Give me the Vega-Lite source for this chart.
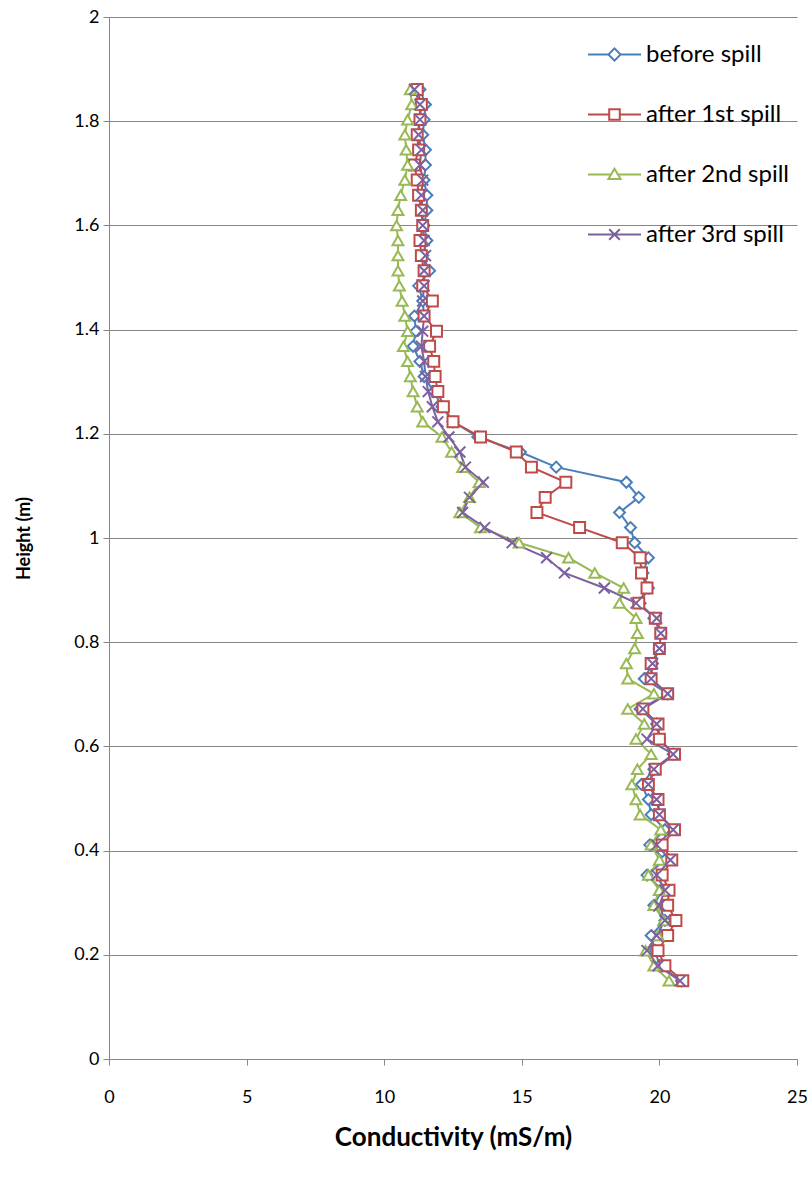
{
  "$schema": "https://vega.github.io/schema/vega-lite/v6.json",
  "width": 688,
  "height": 1042,
  "autosize": {"type": "none"},
  "padding": {"left": 109, "top": 17, "right": 15, "bottom": 129},
  "background": "white",
  "config": {
    "view": {"stroke": null},
    "font": "Lato",
    "axis": {"labelFont": "Lato", "titleFont": "Lato", "labelColor": "#000000", "titleColor": "#000000", "domainColor": "#868686", "tickColor": "#868686", "gridColor": "#868686", "labelFontSize": 18, "titleFontSize": 18, "titleFontWeight": "bold", "labelFlush": false},
    "legend": {"title": null, "orient": "none", "legendX": 478, "legendY": 10, "symbolSize": 2809, "symbolStrokeWidth": 2, "labelFontSize": 24, "labelFont": "Lato", "labelColor": "#000000", "labelOffset": 4, "rowPadding": 20}
  },
  "datasets": {
    "cond": [
      {"s": "before spill", "h": 0.150, "c": 20.8}, {"s": "before spill", "h": 0.179, "c": 20.0}, {"s": "before spill", "h": 0.208, "c": 19.85}, {"s": "before spill", "h": 0.237, "c": 19.7}, {"s": "before spill", "h": 0.266, "c": 20.2}, {"s": "before spill", "h": 0.295, "c": 19.8}, {"s": "before spill", "h": 0.324, "c": 20.1}, {"s": "before spill", "h": 0.353, "c": 19.55}, {"s": "before spill", "h": 0.382, "c": 20.2}, {"s": "before spill", "h": 0.411, "c": 19.65},
      {"s": "before spill", "h": 0.440, "c": 20.2}, {"s": "before spill", "h": 0.469, "c": 19.7}, {"s": "before spill", "h": 0.498, "c": 19.6}, {"s": "before spill", "h": 0.527, "c": 19.35}, {"s": "before spill", "h": 0.556, "c": 19.8}, {"s": "before spill", "h": 0.585, "c": 20.5}, {"s": "before spill", "h": 0.614, "c": 20.0}, {"s": "before spill", "h": 0.643, "c": 19.9}, {"s": "before spill", "h": 0.672, "c": 19.3}, {"s": "before spill", "h": 0.701, "c": 20.3},
      {"s": "before spill", "h": 0.730, "c": 19.45}, {"s": "before spill", "h": 0.759, "c": 19.75}, {"s": "before spill", "h": 0.788, "c": 20.0}, {"s": "before spill", "h": 0.817, "c": 20.05}, {"s": "before spill", "h": 0.846, "c": 19.8}, {"s": "before spill", "h": 0.875, "c": 19.3}, {"s": "before spill", "h": 0.904, "c": 19.6}, {"s": "before spill", "h": 0.933, "c": 19.4}, {"s": "before spill", "h": 0.962, "c": 19.6}, {"s": "before spill", "h": 0.991, "c": 19.1},
      {"s": "before spill", "h": 1.020, "c": 18.95}, {"s": "before spill", "h": 1.049, "c": 18.55}, {"s": "before spill", "h": 1.078, "c": 19.25}, {"s": "before spill", "h": 1.107, "c": 18.8}, {"s": "before spill", "h": 1.136, "c": 16.25}, {"s": "before spill", "h": 1.165, "c": 14.95}, {"s": "before spill", "h": 1.194, "c": 13.4}, {"s": "before spill", "h": 1.223, "c": 12.5}, {"s": "before spill", "h": 1.252, "c": 12.1}, {"s": "before spill", "h": 1.281, "c": 11.8},
      {"s": "before spill", "h": 1.310, "c": 11.45}, {"s": "before spill", "h": 1.339, "c": 11.3}, {"s": "before spill", "h": 1.368, "c": 11.05}, {"s": "before spill", "h": 1.397, "c": 11.15}, {"s": "before spill", "h": 1.426, "c": 11.1}, {"s": "before spill", "h": 1.455, "c": 11.4}, {"s": "before spill", "h": 1.484, "c": 11.25}, {"s": "before spill", "h": 1.513, "c": 11.65}, {"s": "before spill", "h": 1.542, "c": 11.4}, {"s": "before spill", "h": 1.571, "c": 11.55},
      {"s": "before spill", "h": 1.600, "c": 11.45}, {"s": "before spill", "h": 1.629, "c": 11.55}, {"s": "before spill", "h": 1.658, "c": 11.55}, {"s": "before spill", "h": 1.687, "c": 11.45}, {"s": "before spill", "h": 1.716, "c": 11.5}, {"s": "before spill", "h": 1.745, "c": 11.5}, {"s": "before spill", "h": 1.774, "c": 11.4}, {"s": "before spill", "h": 1.803, "c": 11.45}, {"s": "before spill", "h": 1.832, "c": 11.5}, {"s": "before spill", "h": 1.861, "c": 11.3},

      {"s": "after 1st spill", "h": 0.150, "c": 20.85}, {"s": "after 1st spill", "h": 0.179, "c": 20.2}, {"s": "after 1st spill", "h": 0.208, "c": 19.95}, {"s": "after 1st spill", "h": 0.237, "c": 20.3}, {"s": "after 1st spill", "h": 0.266, "c": 20.6}, {"s": "after 1st spill", "h": 0.295, "c": 20.3}, {"s": "after 1st spill", "h": 0.324, "c": 20.35}, {"s": "after 1st spill", "h": 0.353, "c": 20.1}, {"s": "after 1st spill", "h": 0.382, "c": 20.45}, {"s": "after 1st spill", "h": 0.411, "c": 20.1},
      {"s": "after 1st spill", "h": 0.440, "c": 20.55}, {"s": "after 1st spill", "h": 0.469, "c": 20.0}, {"s": "after 1st spill", "h": 0.498, "c": 19.95}, {"s": "after 1st spill", "h": 0.527, "c": 19.6}, {"s": "after 1st spill", "h": 0.556, "c": 19.85}, {"s": "after 1st spill", "h": 0.585, "c": 20.55}, {"s": "after 1st spill", "h": 0.614, "c": 20.0}, {"s": "after 1st spill", "h": 0.643, "c": 19.95}, {"s": "after 1st spill", "h": 0.672, "c": 19.4}, {"s": "after 1st spill", "h": 0.701, "c": 20.3},
      {"s": "after 1st spill", "h": 0.730, "c": 19.7}, {"s": "after 1st spill", "h": 0.759, "c": 19.7}, {"s": "after 1st spill", "h": 0.788, "c": 20.0}, {"s": "after 1st spill", "h": 0.817, "c": 20.05}, {"s": "after 1st spill", "h": 0.846, "c": 19.85}, {"s": "after 1st spill", "h": 0.875, "c": 19.25}, {"s": "after 1st spill", "h": 0.904, "c": 19.55}, {"s": "after 1st spill", "h": 0.933, "c": 19.35}, {"s": "after 1st spill", "h": 0.962, "c": 19.3}, {"s": "after 1st spill", "h": 0.991, "c": 18.65},
      {"s": "after 1st spill", "h": 1.020, "c": 17.1}, {"s": "after 1st spill", "h": 1.049, "c": 15.55}, {"s": "after 1st spill", "h": 1.078, "c": 15.85}, {"s": "after 1st spill", "h": 1.107, "c": 16.6}, {"s": "after 1st spill", "h": 1.136, "c": 15.35}, {"s": "after 1st spill", "h": 1.165, "c": 14.8}, {"s": "after 1st spill", "h": 1.194, "c": 13.5}, {"s": "after 1st spill", "h": 1.223, "c": 12.5}, {"s": "after 1st spill", "h": 1.252, "c": 12.15}, {"s": "after 1st spill", "h": 1.281, "c": 11.95},
      {"s": "after 1st spill", "h": 1.310, "c": 11.85}, {"s": "after 1st spill", "h": 1.339, "c": 11.8}, {"s": "after 1st spill", "h": 1.368, "c": 11.65}, {"s": "after 1st spill", "h": 1.397, "c": 11.9}, {"s": "after 1st spill", "h": 1.426, "c": 11.45}, {"s": "after 1st spill", "h": 1.455, "c": 11.75}, {"s": "after 1st spill", "h": 1.484, "c": 11.4}, {"s": "after 1st spill", "h": 1.513, "c": 11.45}, {"s": "after 1st spill", "h": 1.542, "c": 11.35}, {"s": "after 1st spill", "h": 1.571, "c": 11.3},
      {"s": "after 1st spill", "h": 1.600, "c": 11.4}, {"s": "after 1st spill", "h": 1.629, "c": 11.35}, {"s": "after 1st spill", "h": 1.658, "c": 11.25}, {"s": "after 1st spill", "h": 1.687, "c": 11.2}, {"s": "after 1st spill", "h": 1.716, "c": 11.1}, {"s": "after 1st spill", "h": 1.745, "c": 11.25}, {"s": "after 1st spill", "h": 1.774, "c": 11.2}, {"s": "after 1st spill", "h": 1.803, "c": 11.3}, {"s": "after 1st spill", "h": 1.832, "c": 11.35}, {"s": "after 1st spill", "h": 1.861, "c": 11.2},

      {"s": "after 2nd spill", "h": 0.150, "c": 20.35}, {"s": "after 2nd spill", "h": 0.179, "c": 19.8}, {"s": "after 2nd spill", "h": 0.208, "c": 19.5}, {"s": "after 2nd spill", "h": 0.237, "c": 19.95}, {"s": "after 2nd spill", "h": 0.266, "c": 20.15}, {"s": "after 2nd spill", "h": 0.295, "c": 19.8}, {"s": "after 2nd spill", "h": 0.324, "c": 20.0}, {"s": "after 2nd spill", "h": 0.353, "c": 19.6}, {"s": "after 2nd spill", "h": 0.382, "c": 20.0}, {"s": "after 2nd spill", "h": 0.411, "c": 19.7},
      {"s": "after 2nd spill", "h": 0.440, "c": 20.05}, {"s": "after 2nd spill", "h": 0.469, "c": 19.3}, {"s": "after 2nd spill", "h": 0.498, "c": 19.15}, {"s": "after 2nd spill", "h": 0.527, "c": 19.0}, {"s": "after 2nd spill", "h": 0.556, "c": 19.2}, {"s": "after 2nd spill", "h": 0.585, "c": 19.7}, {"s": "after 2nd spill", "h": 0.614, "c": 19.15}, {"s": "after 2nd spill", "h": 0.643, "c": 19.45}, {"s": "after 2nd spill", "h": 0.672, "c": 18.85}, {"s": "after 2nd spill", "h": 0.701, "c": 19.8},
      {"s": "after 2nd spill", "h": 0.730, "c": 18.85}, {"s": "after 2nd spill", "h": 0.759, "c": 18.8}, {"s": "after 2nd spill", "h": 0.788, "c": 19.1}, {"s": "after 2nd spill", "h": 0.817, "c": 19.2}, {"s": "after 2nd spill", "h": 0.846, "c": 19.15}, {"s": "after 2nd spill", "h": 0.875, "c": 18.55}, {"s": "after 2nd spill", "h": 0.904, "c": 18.7}, {"s": "after 2nd spill", "h": 0.933, "c": 17.65}, {"s": "after 2nd spill", "h": 0.962, "c": 16.7}, {"s": "after 2nd spill", "h": 0.991, "c": 14.9},
      {"s": "after 2nd spill", "h": 1.020, "c": 13.5}, {"s": "after 2nd spill", "h": 1.049, "c": 12.75}, {"s": "after 2nd spill", "h": 1.078, "c": 13.1}, {"s": "after 2nd spill", "h": 1.107, "c": 13.45}, {"s": "after 2nd spill", "h": 1.136, "c": 12.85}, {"s": "after 2nd spill", "h": 1.165, "c": 12.45}, {"s": "after 2nd spill", "h": 1.194, "c": 12.1}, {"s": "after 2nd spill", "h": 1.223, "c": 11.4}, {"s": "after 2nd spill", "h": 1.252, "c": 11.2}, {"s": "after 2nd spill", "h": 1.281, "c": 11.05},
      {"s": "after 2nd spill", "h": 1.310, "c": 10.95}, {"s": "after 2nd spill", "h": 1.339, "c": 10.85}, {"s": "after 2nd spill", "h": 1.368, "c": 10.7}, {"s": "after 2nd spill", "h": 1.397, "c": 10.85}, {"s": "after 2nd spill", "h": 1.426, "c": 10.75}, {"s": "after 2nd spill", "h": 1.455, "c": 10.65}, {"s": "after 2nd spill", "h": 1.484, "c": 10.55}, {"s": "after 2nd spill", "h": 1.513, "c": 10.5}, {"s": "after 2nd spill", "h": 1.542, "c": 10.5}, {"s": "after 2nd spill", "h": 1.571, "c": 10.5},
      {"s": "after 2nd spill", "h": 1.600, "c": 10.45}, {"s": "after 2nd spill", "h": 1.629, "c": 10.5}, {"s": "after 2nd spill", "h": 1.658, "c": 10.6}, {"s": "after 2nd spill", "h": 1.687, "c": 10.75}, {"s": "after 2nd spill", "h": 1.716, "c": 10.85}, {"s": "after 2nd spill", "h": 1.745, "c": 10.8}, {"s": "after 2nd spill", "h": 1.774, "c": 10.75}, {"s": "after 2nd spill", "h": 1.803, "c": 10.85}, {"s": "after 2nd spill", "h": 1.832, "c": 11.0}, {"s": "after 2nd spill", "h": 1.861, "c": 10.95},

      {"s": "after 3rd spill", "h": 0.150, "c": 20.75}, {"s": "after 3rd spill", "h": 0.179, "c": 19.95}, {"s": "after 3rd spill", "h": 0.208, "c": 19.55}, {"s": "after 3rd spill", "h": 0.237, "c": 19.9}, {"s": "after 3rd spill", "h": 0.266, "c": 20.2}, {"s": "after 3rd spill", "h": 0.295, "c": 20.0}, {"s": "after 3rd spill", "h": 0.324, "c": 20.2}, {"s": "after 3rd spill", "h": 0.353, "c": 19.9}, {"s": "after 3rd spill", "h": 0.382, "c": 20.4}, {"s": "after 3rd spill", "h": 0.411, "c": 19.9},
      {"s": "after 3rd spill", "h": 0.440, "c": 20.5}, {"s": "after 3rd spill", "h": 0.469, "c": 20.0}, {"s": "after 3rd spill", "h": 0.498, "c": 19.9}, {"s": "after 3rd spill", "h": 0.527, "c": 19.6}, {"s": "after 3rd spill", "h": 0.556, "c": 19.8}, {"s": "after 3rd spill", "h": 0.585, "c": 20.5}, {"s": "after 3rd spill", "h": 0.614, "c": 19.55}, {"s": "after 3rd spill", "h": 0.643, "c": 19.9}, {"s": "after 3rd spill", "h": 0.672, "c": 19.4}, {"s": "after 3rd spill", "h": 0.701, "c": 20.3},
      {"s": "after 3rd spill", "h": 0.730, "c": 19.7}, {"s": "after 3rd spill", "h": 0.759, "c": 19.75}, {"s": "after 3rd spill", "h": 0.788, "c": 20.0}, {"s": "after 3rd spill", "h": 0.817, "c": 20.05}, {"s": "after 3rd spill", "h": 0.846, "c": 19.9}, {"s": "after 3rd spill", "h": 0.875, "c": 19.15}, {"s": "after 3rd spill", "h": 0.904, "c": 18.0}, {"s": "after 3rd spill", "h": 0.933, "c": 16.55}, {"s": "after 3rd spill", "h": 0.962, "c": 15.9}, {"s": "after 3rd spill", "h": 0.991, "c": 14.65},
      {"s": "after 3rd spill", "h": 1.020, "c": 13.65}, {"s": "after 3rd spill", "h": 1.049, "c": 12.85}, {"s": "after 3rd spill", "h": 1.078, "c": 13.1}, {"s": "after 3rd spill", "h": 1.107, "c": 13.6}, {"s": "after 3rd spill", "h": 1.136, "c": 12.95}, {"s": "after 3rd spill", "h": 1.165, "c": 12.75}, {"s": "after 3rd spill", "h": 1.194, "c": 12.35}, {"s": "after 3rd spill", "h": 1.223, "c": 11.95}, {"s": "after 3rd spill", "h": 1.252, "c": 11.75}, {"s": "after 3rd spill", "h": 1.281, "c": 11.6},
      {"s": "after 3rd spill", "h": 1.310, "c": 11.5}, {"s": "after 3rd spill", "h": 1.339, "c": 11.45}, {"s": "after 3rd spill", "h": 1.368, "c": 11.35}, {"s": "after 3rd spill", "h": 1.397, "c": 11.4}, {"s": "after 3rd spill", "h": 1.426, "c": 11.45}, {"s": "after 3rd spill", "h": 1.455, "c": 11.4}, {"s": "after 3rd spill", "h": 1.484, "c": 11.45}, {"s": "after 3rd spill", "h": 1.513, "c": 11.45}, {"s": "after 3rd spill", "h": 1.542, "c": 11.5}, {"s": "after 3rd spill", "h": 1.571, "c": 11.45},
      {"s": "after 3rd spill", "h": 1.600, "c": 11.4}, {"s": "after 3rd spill", "h": 1.629, "c": 11.4}, {"s": "after 3rd spill", "h": 1.658, "c": 11.35}, {"s": "after 3rd spill", "h": 1.687, "c": 11.4}, {"s": "after 3rd spill", "h": 1.716, "c": 11.3}, {"s": "after 3rd spill", "h": 1.745, "c": 11.35}, {"s": "after 3rd spill", "h": 1.774, "c": 11.25}, {"s": "after 3rd spill", "h": 1.803, "c": 11.3}, {"s": "after 3rd spill", "h": 1.832, "c": 11.3}, {"s": "after 3rd spill", "h": 1.861, "c": 11.1}
    ]
  },
  "data": {"name": "cond"},
  "encoding": {
    "x": {"field": "c", "type": "quantitative", "scale": {"domain": [0, 25], "nice": false, "zero": false},
      "axis": {"values": [0, 5, 10, 15, 20, 25], "grid": false, "tickSize": 6, "labelPadding": 23, "title": "Conductivity (mS/m)", "titleFontSize": 26, "titlePadding": 18}},
    "y": {"field": "h", "type": "quantitative", "scale": {"domain": [0, 2], "nice": false, "zero": false},
      "axis": {"values": [0, 0.2, 0.4, 0.6, 0.8, 1, 1.2, 1.4, 1.6, 1.8, 2], "format": ".1~f", "grid": true, "tickSize": 6, "labelPadding": 4, "title": "Height (m)", "titlePadding": 40}}
  },
  "layer": [
    {"mark": {"type": "line", "strokeWidth": 2},
      "encoding": {
        "order": {"field": "h", "type": "quantitative"},
        "color": {"field": "s", "type": "nominal",
          "scale": {"domain": ["before spill", "after 1st spill", "after 2nd spill", "after 3rd spill"], "range": ["#4A7EBB", "#BE4B48", "#98B954", "#7D60A0"]},
          "legend": {
            "encode": {"symbols": {"update": {"fill": {"value": "white"}, "strokeWidth": {"value": 2}, "opacity": {"value": 1},
              "shape": {"signal": "datum.value === 'before spill' ? 'M-1,0L-0.23,0M0.23,0L1,0M0,-0.23L0.23,0L0,0.23L-0.23,0Z' : datum.value === 'after 1st spill' ? 'M-1,0L-0.2,0M0.2,0L1,0M-0.2,-0.2L0.2,-0.2L0.2,0.2L-0.2,0.2Z' : datum.value === 'after 2nd spill' ? 'M-1,0L-0.12,0M0.12,0L1,0M0,-0.22L0.23,0.17L-0.23,0.17Z' : 'M-1,0L1,0M-0.2,-0.2L0.2,0.2M-0.2,0.2L0.2,-0.2'"}}}}}
        }
      }
    },
    {"transform": [{"filter": {"field": "s", "equal": "before spill"}}],
      "mark": {"type": "point", "shape": "diamond", "filled": false, "fill": "white", "stroke": "#4A7EBB", "strokeWidth": 2, "size": 120, "opacity": 1}},
    {"transform": [{"filter": {"field": "s", "equal": "after 1st spill"}}],
      "mark": {"type": "point", "shape": "square", "filled": false, "fill": "white", "stroke": "#BE4B48", "strokeWidth": 2, "size": 120, "opacity": 1}},
    {"transform": [{"filter": {"field": "s", "equal": "after 2nd spill"}}],
      "mark": {"type": "point", "shape": "triangle-up", "filled": false, "fill": "white", "stroke": "#98B954", "strokeWidth": 2, "size": 120, "opacity": 1}},
    {"transform": [{"filter": {"field": "s", "equal": "after 3rd spill"}}],
      "mark": {"type": "point", "shape": "M-1,-1L1,1M-1,1L1,-1", "filled": false, "fill": "white", "stroke": "#7D60A0", "strokeWidth": 2, "size": 120, "opacity": 1}}
  ]
}
